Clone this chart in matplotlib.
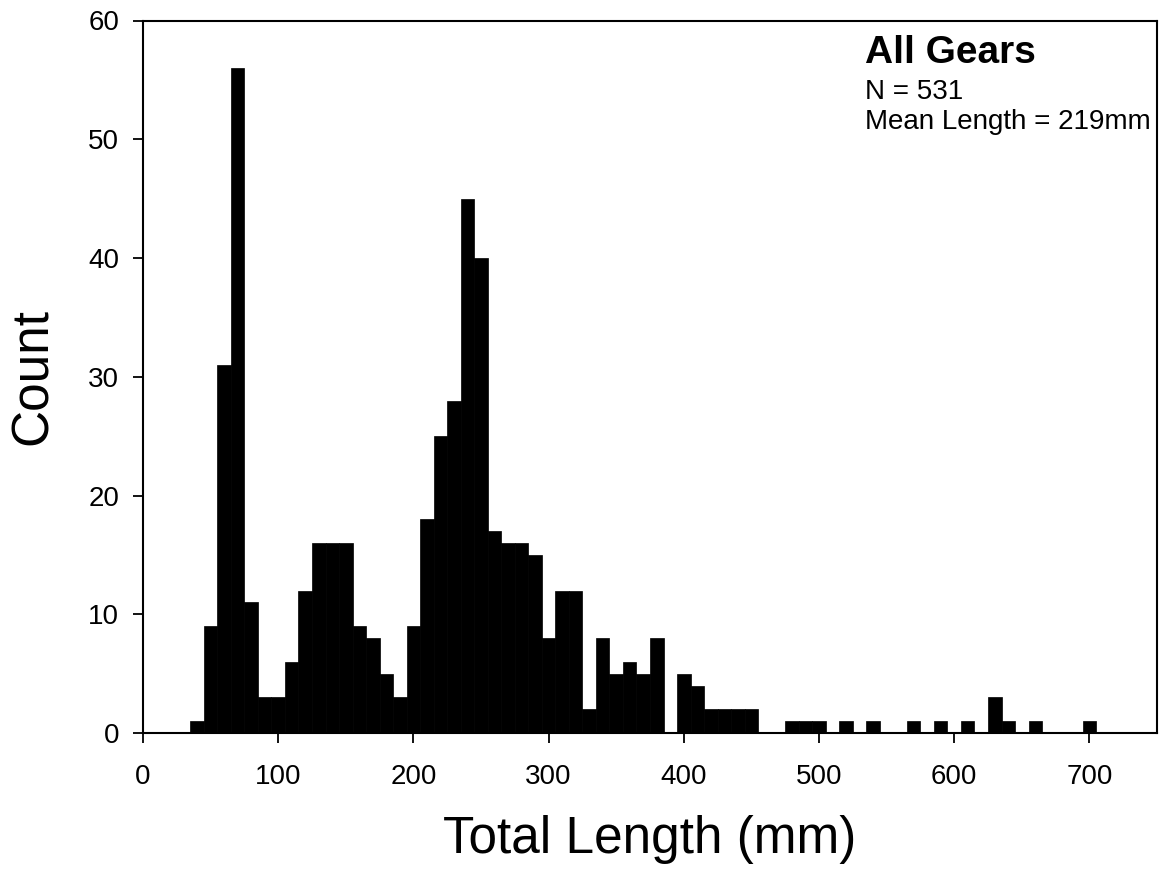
import numpy as np
import matplotlib
matplotlib.use("Agg")
import matplotlib.pyplot as plt

plt.rcParams['font.family'] = ['Liberation Sans', 'DejaVu Sans']

# Length-class midpoints (mm) and fish counts, 10 mm bins
length_mid = [40, 50, 60, 70, 80, 90, 100, 110, 120, 130, 140, 150, 160, 170, 180, 190,
              200, 210, 220, 230, 240, 250, 260, 270, 280, 290, 300, 310, 320, 330, 340,
              350, 360, 370, 380, 390, 400, 410, 420, 430, 440, 450, 460, 470, 480, 490,
              500, 510, 520, 530, 540, 550, 560, 570, 580, 590, 600, 610, 620, 630, 640,
              650, 660, 670, 680, 690, 700]
counts = [1, 9, 31, 56, 11, 3, 3, 6, 12, 16, 16, 16, 9, 8, 5, 3,
          9, 18, 25, 28, 45, 40, 17, 16, 16, 15, 8, 12, 12, 2, 8,
          5, 6, 5, 8, 0, 5, 4, 2, 2, 2, 2, 0, 0, 1, 1,
          1, 0, 1, 0, 1, 0, 0, 1, 0, 1, 0, 1, 0, 3, 1,
          0, 1, 0, 0, 0, 1]

x_ticks = [0, 100, 200, 300, 400, 500, 600, 700]
y_ticks = [0, 10, 20, 30, 40, 50, 60]

W, H = 1162, 875
fig = plt.figure(figsize=(W / 100, H / 100), dpi=100)
ax = fig.add_axes([143 / W, 1 - 733 / H, (1157 - 143) / W, (733 - 20.5) / H])

ax.bar(length_mid, counts, width=10, color='black', edgecolor='black', linewidth=0.5)

ax.set_xlim(0, 750)
ax.set_ylim(0, 60)
ax.set_xticks(x_ticks)
ax.set_yticks(y_ticks)
ax.tick_params(direction='out', length=7.2, width=1.3, labelsize=20)
ax.tick_params(axis='x', pad=15)
ax.tick_params(axis='y', pad=10)
for s in ax.spines.values():
    s.set_linewidth(1.5)

ax.set_xlabel("Total Length (mm)", fontsize=37, labelpad=18)
ax.set_ylabel("Count", fontsize=37, labelpad=22)

# annotation block in the upper right
fig.text(865 / W, 1 - 63 / H, "All Gears", fontsize=28, fontweight='bold', va='baseline')
fig.text(865 / W, 1 - 99 / H, "N = 531", fontsize=20, va='baseline')
fig.text(865 / W, 1 - 129 / H, "Mean Length = 219mm", fontsize=20, va='baseline')

fig.savefig("out.png", dpi=100)
